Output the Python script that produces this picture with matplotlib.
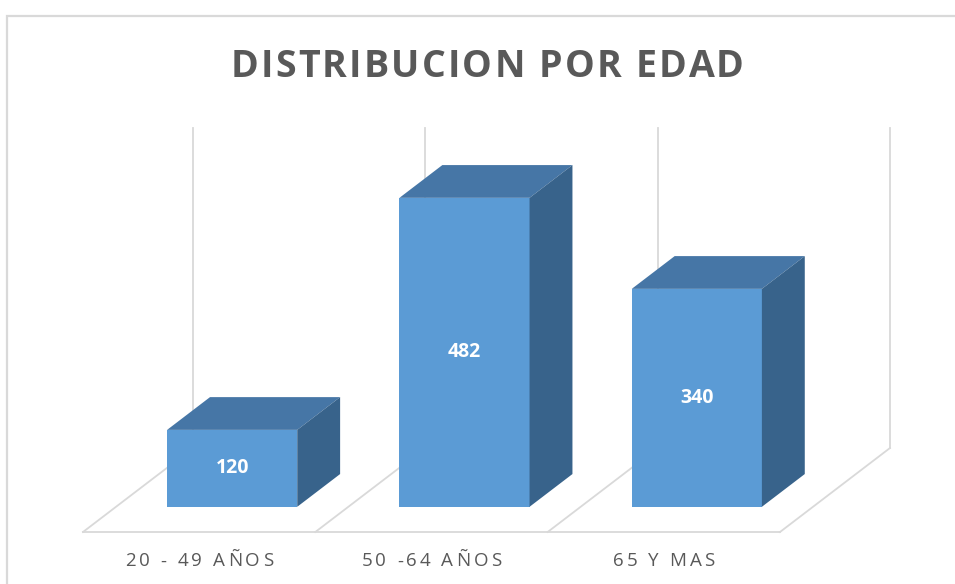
import matplotlib
matplotlib.use("Agg")
import matplotlib.pyplot as plt
from matplotlib.patches import Polygon, Rectangle
from matplotlib.font_manager import FontProperties

# ---------------- data ----------------
title = "DISTRIBUCION POR EDAD"
categories = ["20 - 49 AÑOS", "50 -64 AÑOS", "65 Y MAS"]
values = [120, 482, 340]
axis_max = 500

# ---------------- style / layout ----------------
W, H = 955, 584
FRONT = "#5B9BD5"
TOP = "#4676A6"
SIDE = "#38638B"
GRID = "#D9D9D9"
TEXT = "#595959"

fig = plt.figure(figsize=(W / 100, H / 100), dpi=100)
ax = fig.add_axes([0, 0, 1, 1])

# pixel geometry of the oblique projection
px_slot = 232.33          # px per category slot
px_val = 0.641            # px per value unit
x0_px, y0_px = 83, 532    # front-left corner of floor (pixels from top-left)
ax.set_xlim(-x0_px / px_slot, (W - x0_px) / px_slot)
ax.set_ylim(-(H - y0_px) / px_val, y0_px / px_val)
ax.axis("off")

depth_dx = 110 / px_slot   # full-depth shift in x (slot units)
depth_dy = 84 / px_val     # full-depth shift in y (value units)
bar_d0, bar_d1 = 0.30, 0.69
bar_w = 0.56
n = len(categories)

# floor lines
lw = 1.3
ax.plot([0, n], [0, 0], color=GRID, lw=lw, zorder=1)
for i in range(n + 1):
    ax.plot([i, i + depth_dx], [0, depth_dy], color=GRID, lw=lw, zorder=1)
    # back wall vertical gridlines
    ax.plot([i + depth_dx, i + depth_dx], [depth_dy, depth_dy + axis_max],
            color=GRID, lw=lw, zorder=1)

# bars
fd = bar_d1 - bar_d0
for i, v in enumerate(values):
    cx = i + 0.5 + bar_d0 * depth_dx
    base = bar_d0 * depth_dy
    xl, xr = cx - bar_w / 2, cx + bar_w / 2
    ddx, ddy = fd * depth_dx, fd * depth_dy
    ax.bar(cx, v, width=bar_w, bottom=base, color=FRONT, zorder=3, linewidth=0)
    top = Polygon([(xl, base + v), (xr, base + v), (xr + ddx, base + v + ddy),
                   (xl + ddx, base + v + ddy)], closed=True, fc=TOP, ec="none", zorder=3)
    side = Polygon([(xr, base), (xr, base + v), (xr + ddx, base + v + ddy),
                    (xr + ddx, base + ddy)], closed=True, fc=SIDE, ec="none", zorder=3)
    ax.add_patch(top)
    ax.add_patch(side)
    ax.text(cx, base + v / 2, f"{v}", color="white", ha="center", va="center",
            fontsize=14, fontweight="bold", family="Open Sans", zorder=5)

# chart border
fig.add_artist(Rectangle((7 / W, -0.1), 1.2, (1 - 16 / H) + 0.1, transform=fig.transFigure,
                         fill=False, ec=GRID, lw=1.6))

# letter-spaced text helper (pixels from top-left)
renderer = fig.canvas.get_renderer()


def spaced_text(s, cx, baseline, spacing, fp, color):
    def w(t):
        return renderer.get_text_width_height_descent(t, fp, ismath=False)[0]
    bar = w("|")
    offs = [w(s[:k] + "|") - bar + k * spacing for k in range(len(s))]
    total = w(s) + (len(s) - 1) * spacing
    left = cx - total / 2
    for k, ch in enumerate(s):
        if ch == " ":
            continue
        fig.text((left + offs[k]) / W, 1 - baseline / H, ch, ha="left", va="baseline",
                 fontproperties=fp, color=color)


title_fp = FontProperties(family="Open Sans", weight="bold", size=27)
spaced_text(title, 487, 77, 2.2, title_fp, TEXT)

label_fp = FontProperties(family="Open Sans", weight="normal", size=13.5)
for i, c in enumerate(categories):
    cx_px = x0_px + (i + 0.5) * px_slot
    spaced_text(c, cx_px, 566.5, 3.0, label_fp, TEXT)

fig.savefig("out.png", dpi=100)
